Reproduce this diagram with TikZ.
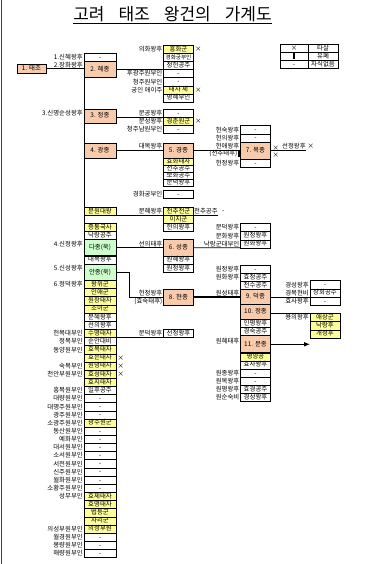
\documentclass[tikz,border=0pt]{standalone}
\usepackage{fontspec}
\setmainfont{Noto Sans CJK KR}
\usepackage{tikz}
\usetikzlibrary{arrows.meta,positioning}
\definecolor{kingorange}{RGB}{248,203,173}
\definecolor{sonyellow}{RGB}{255,255,153}
\definecolor{heirgreen}{RGB}{204,255,204}

\begin{document}
\begin{tikzpicture}[
    x=1pt, y=-1pt,
    node distance=0pt,
    cell/.style={draw, line width=0.4pt, inner sep=0pt, outer sep=0pt, minimum width=30pt, minimum height=8.15pt, text height=5pt, text depth=1pt, font=\fontsize{6.4}{7}\selectfont},
    son/.style={cell, fill=sonyellow},
    king/.style={cell, fill=kingorange, minimum height=16.3pt},
    crown/.style={king, line width=1.1pt},
    heir/.style={cell, fill=heirgreen, line width=0.9pt, minimum height=16.3pt},
    wide/.style={minimum width=32pt},
    small/.style={font=\fontsize{5.6}{6}\selectfont},
    lbl/.style={inner sep=0pt, font=\fontsize{6.4}{7}\selectfont},
    kill/.style={inner sep=0pt, font=\fontsize{6.4}{7}\selectfont},
    link/.style={line width=0.8pt},
    royal/.style={line width=1.5pt}
]
    \useasboundingbox (0,0) rectangle (364,564);
    \fill[white] (0,0) rectangle (364,564);
    \draw[black!75, line width=1pt] (1.2,0) -- (1.2,564);

    % title
    \node[inner sep=0pt, font=\fontsize{17}{17}\selectfont] (title) at (172.5,14)
        {고려\hspace{14pt}태조\hspace{14pt}왕건의\hspace{14pt}가계도};
    \draw[line width=1pt] ([yshift=-1.5pt]title.south west) -- ([yshift=-1.5pt]title.south east);

    % legend
    \node[cell, minimum width=28pt, anchor=north west] (lgx) at (280,44) {×};
    \node[cell, right=of lgx] (lgxt) {타살};
    \node[cell, minimum width=28pt, below=of lgx] (lgbar) {\rule[-0.5pt]{1.4pt}{5.5pt}};
    \node[cell, right=of lgbar] (lgbart) {유폐};
    \node[cell, minimum width=28pt, below=of lgbar] (lgdash) {-};
    \node[cell, right=of lgdash] (lgdasht) {자식없음};

    % Taejo and his children
    \node[king, minimum width=29pt, minimum height=9pt, anchor=north west] (taejo) at (17,64) {1. 태조};
    \node[cell, wide, anchor=north west] (sinhye) at (84,53) {-};
    \node[lbl, left=1pt of sinhye] (nsinhye) {1.신혜왕후};
    \node[king, wide, below=of sinhye] (hyejong) {2. 혜종};
    \node[lbl, left=1pt of hyejong, yshift=4pt] (nhyejong) {2.장화왕후};
    \node[king, wide, minimum height=14pt, anchor=north west] (jeongjong) at (84,109) {3. 정종};
    \node[lbl, left=1pt of jeongjong, yshift=3pt] (njeongjong) {3.신명순성왕후};
    \node[king, wide, minimum height=15pt, anchor=north west] (gwangjong) at (84,143) {4. 광종};

    \node[son, wide, anchor=north west] (munwon) at (84,207) {문원대왕};
    \node[son, wide, below=8.15pt of munwon] (jeungtong) {증통국사};
    \node[cell, wide, below=of jeungtong] (nakrang) {낙랑공주};
    \node[heir, wide, below=of nakrang] (dajong) {다종(욱)};
    \node[lbl, left=1pt of dajong, yshift=4pt] (ndajong) {4.신정왕후};
    \node[cell, wide, below=of dajong] (daemok) {대목왕후};
    \node[heir, wide, below=of daemok] (anjong) {안종(욱)};
    \node[lbl, left=1pt of anjong, yshift=4pt] (nanjong) {5.신성왕후};
    \node[son, wide, below=of anjong] (wangwi) {왕위군};
    \node[lbl, left=1pt of wangwi] (nwangwi) {6.정덕왕후};
    \node[son, wide, below=of wangwi] (inae) {인애군};
    \node[son, wide, below=of inae] (wonjang) {원장태자};
    \node[son, wide, below=of wonjang] (joi) {조이군};
    \node[cell, wide, below=of joi] (munhye) {문혜왕후};
    \node[cell, wide, below=of munhye] (seonui) {선의왕후};
    \node[son, wide, below=of seonui] (sumyeong) {수명태자};
    \node[lbl, left=1pt of sumyeong] (nsumyeong) {헌목대부인};
    \node[cell, wide, below=of sumyeong] (sunan) {순안대비};
    \node[lbl, left=1pt of sunan] (nsunan) {정목부인};
    \node[son, wide, below=of sunan] (hyomok) {효목태자};
    \node[lbl, left=1pt of hyomok] (nhyomok) {동양원부인};
    \node[son, wide, below=of hyomok] (hyoeun) {효은태자};
    \node[kill, right=1.5pt of hyoeun] (xhyoeun) {×};
    \node[son, wide, below=of hyoeun] (wonnyeong) {원녕태자};
    \node[lbl, left=1pt of wonnyeong] (nwonnyeong) {숙목부인};
    \node[kill, right=1.5pt of wonnyeong] (xwonnyeong) {×};
    \node[son, wide, below=of wonnyeong] (hyoseong) {효성태자};
    \node[lbl, left=1pt of hyoseong] (nhyoseong) {천안부원부인};
    \node[kill, right=1.5pt of hyoseong] (xhyoseong) {×};
    \node[son, wide, below=of hyoseong] (hyoji) {효지태자};
    \node[cell, wide, below=of hyoji] (ilhu) {일후공주};
    \node[lbl, left=1pt of ilhu] (nilhu) {흥복원부인};
    \node[cell, wide, below=of ilhu] (daeryang) {-};
    \node[lbl, left=1pt of daeryang] (ndaeryang) {대량원부인};
    \node[cell, wide, below=of daeryang] (daemyeongju) {-};
    \node[lbl, left=1pt of daemyeongju] (ndaemyeongju) {대명주원부인};
    \node[cell, wide, below=of daemyeongju] (gwangju) {-};
    \node[lbl, left=1pt of gwangju] (ngwangju) {광주원부인};
    \node[son, wide, below=of gwangju] (sogwangju) {광주원군};
    \node[lbl, left=1pt of sogwangju] (nsogwangju) {소광주원부인};
    \node[cell, wide, below=of sogwangju] (dongsan) {-};
    \node[lbl, left=1pt of dongsan] (ndongsan) {동산원부인};
    \node[cell, wide, below=of dongsan] (yehwa) {-};
    \node[lbl, left=1pt of yehwa] (nyehwa) {예화부인};
    \node[cell, wide, below=of yehwa] (daeseo) {-};
    \node[lbl, left=1pt of daeseo] (ndaeseo) {대서원부인};
    \node[cell, wide, below=of daeseo] (soseo) {-};
    \node[lbl, left=1pt of soseo] (nsoseo) {소서원부인};
    \node[cell, wide, below=of soseo] (seojeon) {-};
    \node[lbl, left=1pt of seojeon] (nseojeon) {서전원부인};
    \node[cell, wide, below=of seojeon] (sinju) {-};
    \node[lbl, left=1pt of sinju] (nsinju) {신주원부인};
    \node[cell, wide, below=of sinju] (wolhwa) {-};
    \node[lbl, left=1pt of wolhwa] (nwolhwa) {월화원부인};
    \node[cell, wide, below=of wolhwa] (sohwangju) {-};
    \node[lbl, left=1pt of sohwangju] (nsohwangju) {소황주원부인};
    \node[son, wide, below=of sohwangju] (hyoje) {효제태자};
    \node[lbl, left=1pt of hyoje] (nhyoje) {성무부인};
    \node[son, wide, below=of hyoje] (hyomyeong) {효명태자};
    \node[son, wide, below=of hyomyeong] (beopdeung) {법등군};
    \node[son, wide, below=of beopdeung] (jari) {자리군};
    \node[son, wide, below=of jari] (uiseong) {의성부원};
    \node[lbl, left=1pt of uiseong] (nuiseong) {의성부원부인};
    \node[cell, wide, below=of uiseong] (wolgyeong) {-};
    \node[lbl, left=1pt of wolgyeong] (nwolgyeong) {월경원부인};
    \node[cell, wide, below=of wolgyeong] (mongryang) {-};
    \node[lbl, left=1pt of mongryang] (nmongryang) {몽량원부인};
    \node[cell, wide, below=of mongryang] (haeryang) {-};
    \node[lbl, left=1pt of haeryang] (nhaeryang) {해량원부인};

    \draw[link] (taejo.east) -- (taejo.east -| hyejong.west);
    \draw[link] (hyejong.south west) -- (haeryang.south west);

    % Hyejong
    \node[son, anchor=north west] (heunghwa) at (163.5,45) {흥화군};
    \node[lbl, left=1pt of heunghwa] (nheunghwa) {의화왕후};
    \node[kill, right=1.5pt of heunghwa] (xheunghwa) {×};
    \node[cell, small, below=of heunghwa] (gyeonghwa) {경화궁부인};
    \node[cell, below=of gyeonghwa] (jeongheon) {정헌공주};
    \node[cell, below=of jeongheon] (hugwang) {-};
    \node[lbl, left=1pt of hugwang] (nhugwang) {후광주원부인};
    \node[cell, below=of hugwang] (cheongju) {-};
    \node[lbl, left=1pt of cheongju] (ncheongju) {청주원부인};
    \node[son, below=of cheongju] (jae) {태자 제};
    \node[lbl, left=1pt of jae] (njae) {궁인 애이주};
    \node[kill, right=1.5pt of jae] (xjae) {×};
    \node[cell, below=of jae] (myeonghye) {명혜부인};
    \draw[link] (hyejong.east |- jeongheon.south) -- (jeongheon.south west);

    % Jeongjong
    \node[cell, anchor=north west] (mungong) at (163.5,109) {-};
    \node[lbl, left=1pt of mungong] (nmungong) {문공왕후};
    \node[son, below=of mungong] (gyeongchun) {경춘원군};
    \node[lbl, left=1pt of gyeongchun] (ngyeongchun) {문성왕후};
    \node[kill, right=1.5pt of gyeongchun] (xgyeongchun) {×};
    \node[cell, below=of gyeongchun] (cheongjunam) {-};
    \node[lbl, left=1pt of cheongjunam] (ncheongjunam) {청주남원부인};
    \draw[link] (jeongjong.east |- mungong.south) -- (mungong.south west);

    % Gwangjong, Gyeongjong, Mokjong
    \node[king, minimum height=15pt, anchor=north west] (gyeongjong) at (163.5,143) {5. 경종};
    \node[lbl, left=1pt of gyeongjong, yshift=4pt] (ngyeongjong) {대목왕후};
    \node[son, minimum height=7pt, below=of gyeongjong] (hyohwa) {효화태자};
    \node[cell, minimum height=7pt, below=of hyohwa] (cheonchu) {천추공주};
    \node[cell, minimum height=7pt, below=of cheonchu] (bohwa) {보화공주};
    \node[cell, minimum height=7pt, below=of bohwa] (mundeok) {문덕왕후};
    \node[cell, below=4pt of mundeok] (gyeonghwa2) {-};
    \node[lbl, left=1pt of gyeonghwa2] (ngyeonghwa2) {경화궁부인};
    \draw[royal] (gwangjong) -- (gyeongjong);

    \node[king, minimum height=17pt, anchor=north west] (mokjong) at (240.5,142) {7. 목종};
    \node[cell, above=of mokjong] (heonui) {-};
    \node[lbl, left=1pt of heonui] (nheonui) {헌의왕후};
    \node[cell, above=of heonui] (heonsuk) {-};
    \node[lbl, left=1pt of heonsuk] (nheonsuk) {헌숙왕후};
    \node[cell, below=of mokjong] (heonjeong) {-};
    \node[lbl, left=1pt of heonjeong] (nheonjeong) {헌정왕후};
    \node[lbl, left=1pt of mokjong, yshift=4pt] (nheonae) {헌애왕후};
    \node[inner sep=0pt, left=0.6pt of mokjong, yshift=-3pt] (confine) {\rule{1.4pt}{6.5pt}};
    \node[lbl, left=0.6pt of confine] (ncheonchu) {(천추태후)};
    \draw[royal] (gyeongjong) -- (mokjong);
    \node[kill, anchor=west] (xmok1) at ([xshift=2pt, yshift=2pt]mokjong.east) {×};
    \node[kill, anchor=west] (xmok2) at ([xshift=2pt, yshift=-5pt]mokjong.east) {×};
    \node[lbl, anchor=south west] (seonjeong) at ([xshift=11.5pt, yshift=0.8pt]mokjong.east) {선정왕후};
    \node[kill, right=1.5pt of seonjeong] (xseonjeong) {×};
    \draw[royal] (mokjong.east) -- (mokjong.east -| seonjeong.east);

    % Munwon daewang
    \node[son, anchor=north west] (cheonchujeon) at (163.5,207) {천추전군};
    \node[lbl, left=1pt of cheonchujeon] (ncheonchujeon) {문혜왕후};
    \node[son, below=of cheonchujeon] (iji) {이지군};
    \node[cell, below=of iji] (heonui2) {헌의왕후};
    \draw[link] (munwon.south east) -- (cheonchujeon.south west);
    \node[lbl, anchor=south west] (cheonchugong) at ([xshift=0.5pt, yshift=0.8pt]cheonchujeon.south east) {천추공주};
    \node[lbl, right=4pt of cheonchugong] (ncheonchugong) {-};
    \draw[link] (cheonchujeon.south east) -- (cheonchujeon.south east -| cheonchugong.east);

    % Seongjong
    \node[king, right=47.5pt of dajong] (seongjong) {6. 성종};
    \node[lbl, left=1pt of seongjong, yshift=4pt] (nseongjong) {선의태후};
    \node[cell, below=of seongjong] (wonhye) {원혜왕후};
    \node[cell, below=of wonhye] (wonjeong) {원정왕후};
    \draw[link] (dajong) -- (seongjong);
    \node[cell, anchor=north west] (mundeok2) at (240.5,223.4) {-};
    \node[lbl, left=1pt of mundeok2] (nmundeok2) {문덕왕후};
    \node[cell, below=of mundeok2] (wonjeong2) {원정왕후};
    \node[lbl, left=1pt of wonjeong2] (nwonjeong2) {문화왕후};
    \node[cell, below=of wonjeong2] (wonhwa2) {원화왕후};
    \node[lbl, left=1pt of wonhwa2] (nwonhwa2) {낙랑군대부인};
    \draw[link] (seongjong.east) -- (wonhwa2.south west);

    % Sumyeong taeja
    \node[cell, anchor=south west] (seonjeong2) at ([xshift=47.5pt]sumyeong.south east) {선정왕후};
    \node[lbl, left=1pt of seonjeong2] (nseonjeong2) {문덕왕후};
    \draw[link] (sumyeong.south east) -- (seonjeong2.south west);

    % Hyeonjong
    \node[king, anchor=north west] (hyeonjong) at (163.5,289) {8. 현종};
    \node[lbl, anchor=south east] (nhyeonjong) at ([xshift=-1pt, yshift=0.8pt]hyeonjong.west) {헌정왕후};
    \node[lbl, anchor=north east] (nhyosuk) at ([xshift=-1pt, yshift=-1.2pt]hyeonjong.west) {(효숙태후)};
    \draw[link] (anjong.east) -- ++(13,0) |- (hyeonjong.west);

    \node[cell, anchor=north west] (wonjeong3) at (240.5,265) {-};
    \node[lbl, left=1pt of wonjeong3] (nwonjeong3) {원정왕후};
    \node[cell, below=of wonjeong3] (hyojeong) {효정공주};
    \node[lbl, left=1pt of hyojeong] (nhyojeong) {원화왕후};
    \node[cell, below=of hyojeong] (cheonsu) {천수공주};
    \node[crown, minimum height=15pt, below=of cheonsu] (deokjong) {9. 덕종};
    \node[lbl, left=1pt of deokjong, yshift=3.5pt] (ndeokjong) {원성태후};
    \node[crown, minimum height=15pt, below=of deokjong] (jeongjong10) {10. 정종};
    \node[cell, below=of jeongjong10] (inpyeong) {인평왕후};
    \node[cell, below=of inpyeong] (gyeongsuk) {경숙공주};
    \node[crown, minimum height=17pt, below=of gyeongsuk] (munjong) {11. 문종};
    \node[lbl, left=1pt of munjong, yshift=3pt] (nmunjong) {원혜태후};
    \node[son, below=of munjong] (pyeongyang) {평양공};
    \node[cell, below=of pyeongyang] (hyosa) {효사왕후};
    \node[cell, below=of hyosa] (wonjongw) {-};
    \node[lbl, left=1pt of wonjongw] (nwonjongw) {원종왕후};
    \node[cell, below=of wonjongw] (wonmok) {-};
    \node[lbl, left=1pt of wonmok] (nwonmok) {원목왕후};
    \node[cell, below=of wonmok] (hyogyeong) {효경공주};
    \node[lbl, left=1pt of hyogyeong] (nhyogyeong) {원평왕후};
    \node[cell, below=of hyogyeong] (gyeongseong) {경성왕후};
    \node[lbl, left=1pt of gyeongseong] (ngyeongseong) {원순숙비};
    \draw[royal] (hyeonjong.east) -- (hyeonjong.east -| deokjong.west);

    % Deokjong, Jeongjong, Munjong
    \node[cell, anchor=south west] (sanghoe) at ([xshift=39.5pt]deokjong.east) {상회공주};
    \node[lbl, left=1pt of sanghoe] (nsanghoe) {경목현비};
    \node[cell, above=of sanghoe] (gyeongseong2) {-};
    \node[lbl, left=1pt of gyeongseong2] (ngyeongseong2) {경성왕후};
    \node[cell, below=of sanghoe] (hyosa2) {-};
    \node[lbl, left=1pt of hyosa2] (nhyosa2) {효사왕후};
    \draw[link] (deokjong.east) -- (sanghoe.south west);

    \node[son, anchor=north west] (aesang) at (310,313.5) {애상군};
    \node[lbl, left=1pt of aesang] (naesang) {용의왕후};
    \node[son, below=of aesang] (nakranghu) {낙랑후};
    \node[son, below=of nakranghu] (gaeseong) {개성후};
    \draw[link] (jeongjong10.east |- aesang.north) -- (aesang.north west);

    \coordinate (next) at ([xshift=39.5pt]munjong.east);
    \draw[royal, -{Latex[length=6pt, width=5pt]}] (munjong.east) -- (next);
\end{tikzpicture}
\end{document}
